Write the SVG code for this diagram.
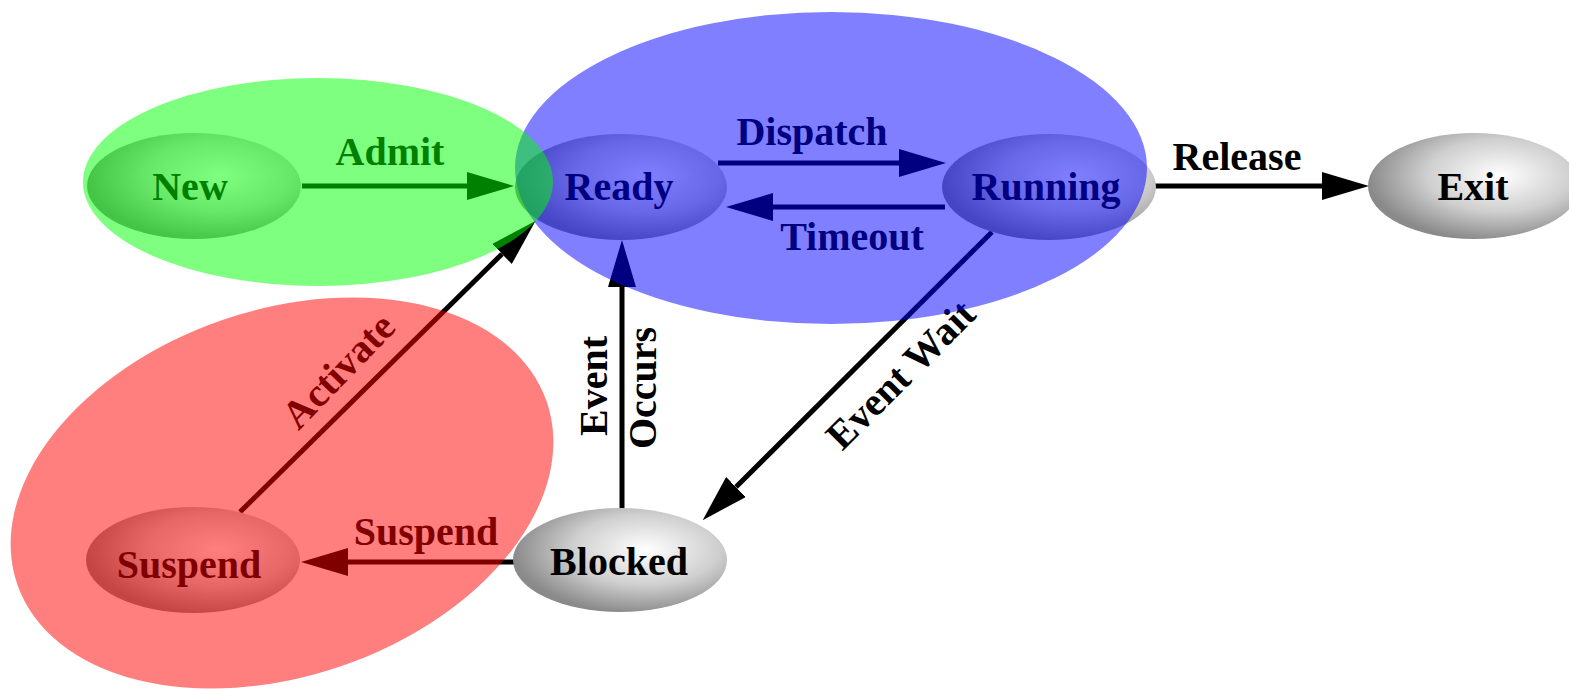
<svg xmlns="http://www.w3.org/2000/svg" width="1569" height="690" viewBox="0 0 1569 690">
<style>
.node{fill:url(#g)}
.lbl{font-family:"Liberation Serif","Times New Roman",serif;font-weight:bold;font-size:40px;fill:#000;text-anchor:middle}
.edge{stroke:#000;stroke-width:5;fill:none;marker-end:url(#ah)}
</style>
<defs>
<radialGradient id="g" cx="0.62" cy="0.4" r="0.62" fx="0.62" fy="0.4">
<stop offset="0" stop-color="#ffffff"/>
<stop offset="0.55" stop-color="#cfcfcf"/>
<stop offset="1" stop-color="#8a8a8a"/>
</radialGradient>
<marker id="ah" markerUnits="userSpaceOnUse" markerWidth="47" markerHeight="28" viewBox="0 0 47 28" refX="0" refY="14" orient="auto">
<path d="M0,0 L47,14 L0,28 z" fill="#000"/>
</marker>
</defs>
<rect width="1569" height="690" fill="#fff"/>
<g id="connectors">
<line class="edge" x1="302" y1="186" x2="467" y2="186"/>
<line class="edge" x1="718" y1="163" x2="899" y2="163"/>
<line class="edge" x1="945" y1="207" x2="773" y2="207"/>
<line class="edge" x1="1155" y1="186" x2="1322" y2="186"/>
<line class="edge" x1="622" y1="508" x2="622" y2="287"/>
<line class="edge" x1="514" y1="562" x2="348" y2="562"/>
<line class="edge" x1="992" y1="232" x2="736" y2="487"/>
<line class="edge" x1="240" y1="512" x2="502" y2="254"/>
<text class="lbl" x="390" y="165">Admit</text>
<text class="lbl" x="812" y="145">Dispatch</text>
<text class="lbl" x="852" y="250">Timeout</text>
<text class="lbl" x="1237" y="170">Release</text>
<text class="lbl" x="426" y="545">Suspend</text>
<text class="lbl" transform="translate(607,386) rotate(-90)">Event</text>
<text class="lbl" transform="translate(656,388) rotate(-90)">Occurs</text>
<text class="lbl" transform="translate(910,384) rotate(-45)">Event Wait</text>
<text class="lbl" transform="translate(348,380) rotate(-46)">Activate</text>
</g>
<g id="node-new"><ellipse class="node" cx="194" cy="186" rx="107" ry="53"/><text class="lbl" x="190" y="200">New</text></g>
<g id="node-ready"><ellipse class="node" cx="621" cy="187" rx="106" ry="53"/><text class="lbl" x="619" y="200">Ready</text></g>
<g id="node-running"><ellipse class="node" cx="1049" cy="187" rx="107" ry="53"/><text class="lbl" x="1046" y="200">Running</text></g>
<g id="node-exit"><ellipse class="node" cx="1474" cy="186" rx="106" ry="53"/><text class="lbl" x="1473" y="200">Exit</text></g>
<g id="node-blocked"><ellipse class="node" cx="620" cy="560" rx="107" ry="52"/><text class="lbl" x="619" y="575">Blocked</text></g>
<g id="node-suspend"><ellipse class="node" cx="193" cy="560" rx="107" ry="53"/><text class="lbl" x="189" y="578">Suspend</text></g>
<g id="overlays">
<ellipse id="region-suspended" cx="282" cy="493" rx="280" ry="183" transform="rotate(-19 282 493)" fill="#ff0000" fill-opacity="0.5"/>
<ellipse id="region-active" cx="831" cy="168" rx="316" ry="156" fill="#0000ff" fill-opacity="0.5"/>
<ellipse id="region-new" cx="318" cy="182" rx="235" ry="104" fill="#00ff00" fill-opacity="0.5"/>
</g>
</svg>
